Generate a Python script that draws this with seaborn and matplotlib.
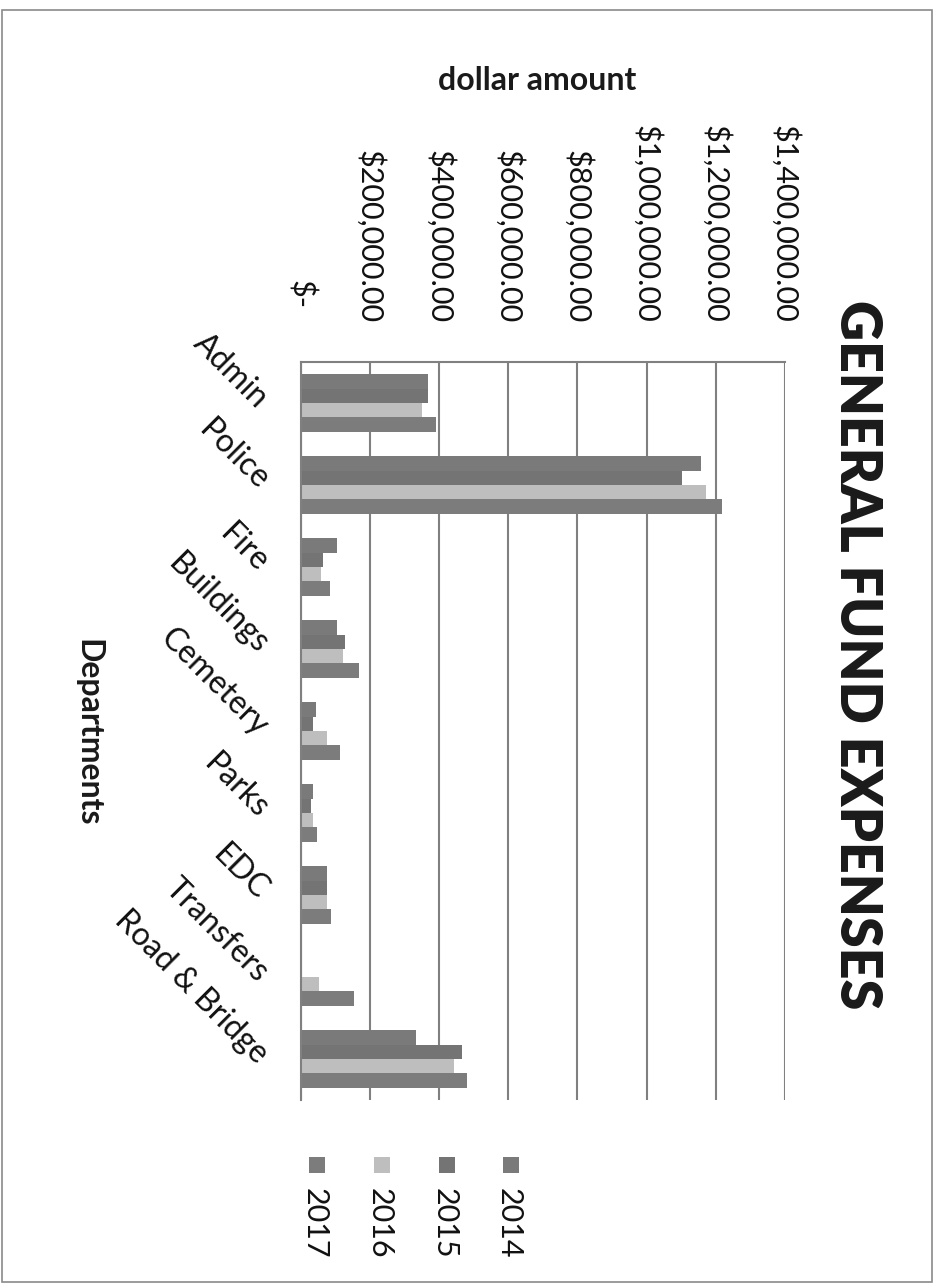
import matplotlib
matplotlib.use("Agg")
import matplotlib.pyplot as plt
from matplotlib.patches import Rectangle
from matplotlib.transforms import ScaledTranslation
import pandas as pd
import seaborn as sns

# General fund expenses by department and year
departments = ["Admin", "Police", "Fire", "Buildings", "Cemetery", "Parks",
               "EDC", "Transfers", "Road & Bridge"]
years = ["2014", "2015", "2016", "2017"]
amt_2014 = [367000, 1156000, 104000, 106000, 44000, 35000, 75000, 0, 333000]
amt_2015 = [367000, 1103000, 65000, 129000, 36000, 30000, 75000, 0, 466000]
amt_2016 = [350000, 1171000, 58000, 121000, 75000, 35000, 75000, 53000, 442000]
amt_2017 = [392000, 1218000, 85000, 168000, 114000, 46000, 87000, 154000, 482000]
value_ticks = [0, 200000, 400000, 600000, 800000, 1000000, 1200000, 1400000]
value_labels = ["$-", "$200,000.00", "$400,000.00", "$600,000.00",
                "$800,000.00", "$1,000,000.00", "$1,200,000.00", "$1,400,000.00"]

year_colors = {"2014": "#7a7a7a", "2015": "#747474", "2016": "#bebebe", "2017": "#7c7c7c"}

sns.set_theme(style="white")
plt.rcParams["font.family"] = ["Lato", "DejaVu Sans"]

df = pd.DataFrame({
    "department": departments * 4,
    "year": [y for y in years for _ in departments],
    "amount": amt_2014 + amt_2015 + amt_2016 + amt_2017,
})

W, H = 937, 1287
fig = plt.figure(figsize=(W / 100, H / 100), dpi=100)
fig.patch.set_facecolor("white")

# plot area in pixel coordinates (left, top, right, bottom)
px_l, px_t, px_r, px_b = 300.7, 362, 785, 1100
ax = fig.add_axes([px_l / W, 1 - px_b / H, (px_r - px_l) / W, (px_b - px_t) / H])

sns.barplot(data=df, y="department", x="amount", hue="year", hue_order=years,
            order=departments, orient="h", palette=year_colors, width=0.70,
            saturation=1, legend=False, ax=ax, linewidth=0)

ax.set_xlim(0, 1400000)
ax.set_ylim(len(departments) - 0.5, -0.5)
ax.set_xlabel("")
ax.set_ylabel("")

grid_col = "#808080"
ax.xaxis.tick_top()
ax.set_xticks(value_ticks)
ax.set_xticklabels(value_labels)
ax.xaxis.grid(True, color=grid_col, linewidth=1.5)
ax.yaxis.grid(False)
ax.set_axisbelow(True)
ax.tick_params(axis="x", length=0, pad=28, labelsize=22, labelcolor="#111111")
for lab in ax.get_xticklabels():
    lab.set_rotation(-90)
    lab.set_ha("center")
    lab.set_va("bottom")
# the zero label sits a little higher, like an accounting format
ax.get_xticklabels()[0].set_transform(
    ax.get_xticklabels()[0].get_transform() + ScaledTranslation(0, 14 / 100, fig.dpi_scale_trans))

ax.tick_params(axis="y", length=0, pad=27, labelsize=23, labelcolor="#111111")
for lab in ax.get_yticklabels():
    lab.set_rotation(-45)
    lab.set_ha("right")
    lab.set_va("center")
    lab.set_rotation_mode("anchor")

for side in ["right", "bottom"]:
    ax.spines[side].set_visible(False)
for side in ["top", "left"]:
    ax.spines[side].set_color(grid_col)
    ax.spines[side].set_linewidth(1.5)

# titles
fig.text(857 / W, 1 - 655 / H, "GENERAL FUND EXPENSES", rotation=-90,
         ha="center", va="center", fontsize=40, fontweight="heavy", color="#1a1a1a")
fig.text(537 / W, 1 - 80 / H, "dollar amount", ha="center", va="center",
         fontsize=23, fontweight="bold", color="#1a1a1a")
fig.text(88 / W, 1 - 733 / H, "Departments", rotation=-90, ha="center", va="center",
         fontsize=23, fontweight="bold", color="#1a1a1a")

# legend, laid out along the bottom
legend_x = {"2017": 317, "2016": 382, "2015": 447, "2014": 511}
sq = 16
for yr in years:
    cx = legend_x[yr]
    fig.add_artist(Rectangle(((cx - sq / 2) / W, 1 - (1165 + sq / 2) / H), sq / W, sq / H,
                             transform=fig.transFigure, facecolor=year_colors[yr],
                             edgecolor="none"))
    fig.text((cx - 2) / W, 1 - 1188 / H, yr, rotation=-90, ha="center", va="top",
             fontsize=22, color="#111111")

# outer border
fig.add_artist(Rectangle((2 / W, 1 - 1282 / H), 930 / W, 1272 / H, transform=fig.transFigure,
                         facecolor="none", edgecolor="#8a8a8a", linewidth=1.2))

fig.savefig("out.png", dpi=100, facecolor="white")
